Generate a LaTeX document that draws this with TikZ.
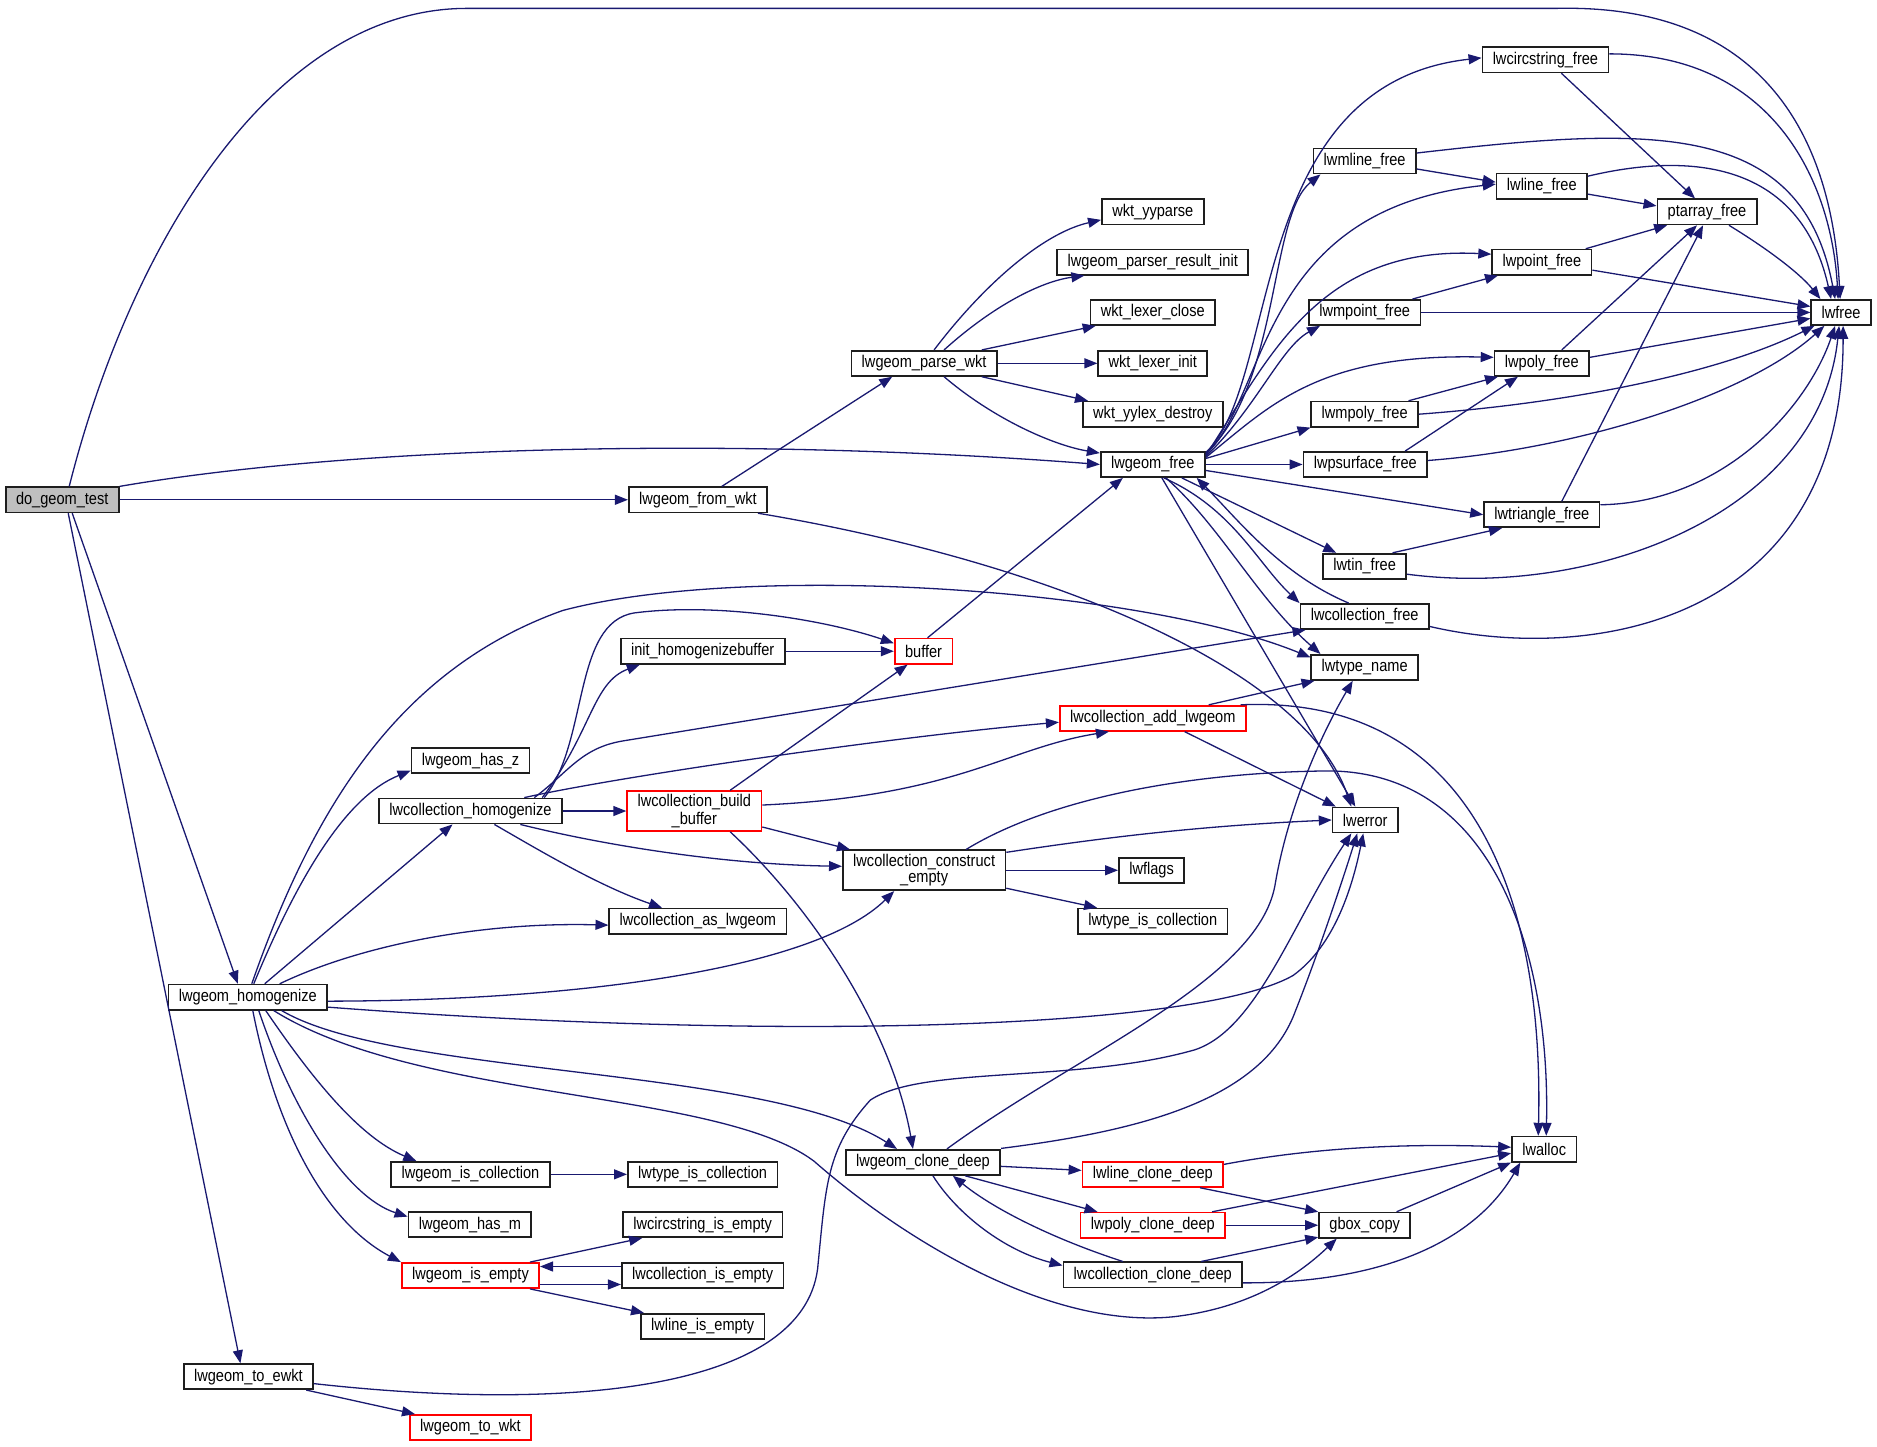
\documentclass[tikz,border=0pt]{standalone}
\usepackage{fontspec}
\newfontfamily\nf{Liberation Sans}[FakeStretch=0.86]
\usetikzlibrary{arrows.meta}
\definecolor{edgec}{RGB}{25,25,112}
\definecolor{nodeb}{RGB}{30,30,30}
\definecolor{grayfill}{RGB}{191,191,191}
\begin{document}
\begin{tikzpicture}[x=0.6pt,y=-0.6pt,
 nd/.style={draw=nodeb, line width=0.85pt, fill=white, inner xsep=5.2pt, inner ysep=0pt, minimum height=12.6pt, font=\nf\fontsize{8.5}{7.7}\selectfont, align=center},
 nr/.style={nd, draw=red},
 tall/.style={minimum height=20pt},
 e/.style={draw=edgec, line width=0.65pt, -{Triangle[length=6.5pt,width=5pt]}}]
\fill[white] (0,0) rectangle (1568,1208);
\useasboundingbox (0,0) rectangle (1568,1208);
% nodes
\node[nd, fill=grayfill] (do) at (52,417.5) {do\_geom\_test};
\node[nd] (lfw) at (583,417.5) {lwgeom\_from\_wkt};
\node[nd] (lpw) at (772,303.5) {lwgeom\_parse\_wkt};
\node[nd] (wyp) at (963,177) {wkt\_yyparse};
\node[nd] (lpri) at (963,219) {lwgeom\_parser\_result\_init};
\node[nd] (wlc) at (963,261) {wkt\_lexer\_close};
\node[nd] (wli) at (963,303.5) {wkt\_lexer\_init};
\node[nd] (wyd) at (963,346) {wkt\_yylex\_destroy};
\node[nd] (lgf) at (963,388) {lwgeom\_free};
\node[nd] (lcf) at (1291,50) {lwcircstring\_free};
\node[nd] (lmlf) at (1140,134.5) {lwmline\_free};
\node[nd] (llf) at (1288,155.5) {lwline\_free};
\node[nd] (ptf) at (1426,177) {ptarray\_free};
\node[nd] (lptf) at (1288,219) {lwpoint\_free};
\node[nd] (lmpf) at (1140,261) {lwmpoint\_free};
\node[nd] (lwf) at (1538,261) {lwfree};
\node[nd] (lpf) at (1288,303.5) {lwpoly\_free};
\node[nd] (lmpyf) at (1140,346) {lwmpoly\_free};
\node[nd] (lpsf) at (1140.5,388) {lwpsurface\_free};
\node[nd] (ltrf) at (1288,430) {lwtriangle\_free};
\node[nd] (ltinf) at (1140,473) {lwtin\_free};
\node[nd] (lcolf) at (1140,515) {lwcollection\_free};
\node[nd] (ltn) at (1140,557.5) {lwtype\_name};
\node[nr] (buf) at (771.5,544) {buffer};
\node[nd] (ihb) at (587,544) {init\_homogenizebuffer};
\node[nr] (lcal) at (963,600) {lwcollection\_add\_lwgeom};
\node[nd] (lhz) at (393,635.5) {lwgeom\_has\_z};
\node[nd] (lch) at (393,677.5) {lwcollection\_homogenize};
\node[nr, tall] (lcbb) at (580,677.5) {lwcollection\_build\\\_buffer};
\node[nd] (lerr) at (1140.5,685) {lwerror};
\node[nd, tall] (lcce) at (772,727) {lwcollection\_construct\\\_empty};
\node[nd] (lfl) at (962,727) {lwflags};
\node[nd] (ltic) at (963,769.5) {lwtype\_is\_collection};
\node[nd] (lcas) at (583,769.5) {lwcollection\_as\_lwgeom};
\node[nd] (lgh) at (207,833) {lwgeom\_homogenize};
\node[nd] (lal) at (1290,960) {lwalloc};
\node[nd] (lgcd) at (771,971) {lwgeom\_clone\_deep};
\node[nr] (llcd) at (963,981) {lwline\_clone\_deep};
\node[nd] (lgic) at (393,981) {lwgeom\_is\_collection};
\node[nd] (ltic2) at (587,981) {lwtype\_is\_collection};
\node[nr] (lpcd) at (963,1023.5) {lwpoly\_clone\_deep};
\node[nd] (gbc) at (1140,1023.5) {gbox\_copy};
\node[nd] (lhm) at (392.5,1023) {lwgeom\_has\_m};
\node[nd] (lcie) at (587,1023) {lwcircstring\_is\_empty};
\node[nr] (lgie) at (393,1065.5) {lwgeom\_is\_empty};
\node[nd] (lcoie) at (587,1065.5) {lwcollection\_is\_empty};
\node[nd] (lccd) at (963,1065) {lwcollection\_clone\_deep};
\node[nd] (llie) at (587,1108) {lwline\_is\_empty};
\node[nd] (ltew) at (207.5,1150) {lwgeom\_to\_ewkt};
\node[nr] (ltw) at (393,1192.5) {lwgeom\_to\_wkt};
% edges from do_geom_test
\draw[e] ([xshift=3.5pt]do.north) .. controls (110,200) and (230,7) .. (390,7) -- (1300,7) .. controls (1470,3) and (1530,110) .. ([xshift=-0.5pt]lwf.north);
\draw[e] (do.north east) .. controls (300,372) and (620,365) .. (lgf.west);
\draw[e] (do.east) -- (lfw.west);
\draw[e] ([xshift=5pt]do.south) -- ([xshift=-5pt]lgh.north);
\draw[e] ([xshift=3pt]do.south) -- ([xshift=-4pt]ltew.north);
% lwgeom_from_wkt
\draw[e] ([xshift=12pt]lfw.north) -- ([xshift=-16pt]lpw.south);
\draw[e] ([xshift=-5pt]lfw.south east) .. controls (880,470) and (1090,560) .. ([xshift=-7pt]lerr.north);
% lwgeom_parse_wkt
\draw[e] ([xshift=5pt]lpw.north) .. controls (820,240) and (870,195) .. ([yshift=-4pt]wyp.west);
\draw[e] ([xshift=10pt]lpw.north) .. controls (830,255) and (870,235) .. ([xshift=14pt]lpri.south west);
\draw[e] ([xshift=-8pt]lpw.north east) -- ([xshift=3pt]wlc.south west);
\draw[e] (lpw.east) -- (wli.west);
\draw[e] ([xshift=-8pt]lpw.south east) -- ([xshift=3pt]wyd.north west);
\draw[e] ([xshift=10pt]lpw.south) .. controls (830,350) and (880,372) .. ([yshift=-1pt]lgf.north west);
% lwgeom_free
\draw[e] ([yshift=6pt]lgf.east) .. controls (1070,320) and (1040,70) .. ([yshift=1pt]lcf.west);
\draw[e] ([yshift=5.5pt]lgf.east) .. controls (1070,320) and (1060,180) .. ([xshift=4pt]lmlf.south west);
\draw[e] ([yshift=5pt]lgf.east) .. controls (1060,330) and (1050,175) .. ([yshift=1pt]llf.west);
\draw[e] ([yshift=4.5pt]lgf.east) .. controls (1060,300) and (1100,205) .. ([yshift=4pt]lptf.west);
\draw[e] ([yshift=4pt]lgf.east) .. controls (1050,340) and (1070,290) .. ([xshift=6pt]lmpf.south west);
\draw[e] ([yshift=3.5pt]lgf.east) .. controls (1060,340) and (1100,295) .. ([yshift=3pt]lpf.west);
\draw[e] ([yshift=3pt]lgf.east) -- (lmpyf.south west);
\draw[e] (lgf.east) -- (lpsf.west);
\draw[e] ([yshift=-3pt]lgf.east) -- (ltrf.west);
\draw[e] ([xshift=-12pt]lgf.south east) -- ([xshift=7pt]ltinf.north west);
\draw[e] ([xshift=-21pt]lgf.south east) .. controls (1030,425) and (1050,470) .. (lcolf.north west);
\draw[e] ([xshift=-8pt]lcolf.north) .. controls (1070,480) and (1035,435) .. ([xshift=22pt]lgf.south);
\draw[e] ([xshift=-20pt]lgf.south east) .. controls (1020,440) and (1050,500) .. ([xshift=5pt]ltn.north west);
\draw[e] ([xshift=-22pt]lgf.south east) -- ([xshift=-5pt]lerr.north);
% free functions to lwfree / ptarray_free
\draw[e] ([yshift=3pt]lcf.east) .. controls (1480,45) and (1530,150) .. ([xshift=-1.5pt]lwf.north);
\draw[e] ([xshift=8pt]lcf.south) -- ([xshift=-6pt]ptf.north);
\draw[e] ([yshift=4pt]lmlf.east) .. controls (1380,105) and (1505,100) .. ([xshift=-3pt]lwf.north);
\draw[e] ([yshift=-4pt]lmlf.east) -- ([yshift=2pt]llf.west);
\draw[e] ([yshift=5pt]llf.east) .. controls (1420,125) and (1505,140) .. ([xshift=-5pt]lwf.north);
\draw[e] ([yshift=-4pt]llf.east) -- ([yshift=3pt]ptf.west);
\draw[e] ([xshift=11pt]ptf.south) .. controls (1480,210) and (1505,230) .. ([xshift=5pt]lwf.north west);
\draw[e] ([xshift=22pt]lptf.north) -- ([xshift=-20pt]ptf.south);
\draw[e] ([yshift=-4pt]lptf.east) -- ([yshift=3pt]lwf.west);
\draw[e] ([xshift=24pt]lmpf.north) -- ([xshift=-22pt]lptf.south);
\draw[e] (lmpf.east) -- (lwf.west);
\draw[e] ([xshift=10pt]lpf.north) -- ([xshift=-5pt]ptf.south);
\draw[e] ([yshift=3pt]lpf.east) -- ([yshift=-3pt]lwf.west);
\draw[e] ([xshift=22pt]lmpyf.north) -- ([xshift=-22pt]lpf.south);
\draw[e] (lmpyf.east) .. controls (1320,336) and (1440,310) .. ([xshift=2pt]lwf.south west);
\draw[e] ([xshift=20pt]lpsf.north) -- ([xshift=-12pt]lpf.south);
\draw[e] ([yshift=2pt]lpsf.east) .. controls (1320,375) and (1460,330) .. ([xshift=7pt]lwf.south west);
\draw[e] ([xshift=10pt]ltrf.north) -- ([xshift=-2pt]ptf.south);
\draw[e] ([yshift=5pt]ltrf.east) .. controls (1440,420) and (1510,340) .. ([xshift=-3pt]lwf.south);
\draw[e] ([xshift=14pt]ltinf.north) -- ([xshift=-20pt]ltrf.south);
\draw[e] ([yshift=-4pt]ltinf.east) .. controls (1330,500) and (1520,430) .. ([xshift=-1pt]lwf.south);
\draw[e] ([yshift=-5pt]lcolf.east) .. controls (1330,555) and (1540,520) .. ([xshift=1pt]lwf.south);
% buffer etc.
\draw[e] ([xshift=2pt]buf.north) -- ([xshift=-15pt]lgf.south);
\draw[e] (ihb.east) -- (buf.west);
\draw[e] ([xshift=28pt]lcal.north) -- ([xshift=2pt]ltn.south west);
\draw[e] ([xshift=16pt]lcal.south) -- ([xshift=2pt]lerr.north west);
\draw[e] ([xshift=44pt]lcal.north) .. controls (1230,580) and (1290,750) .. ([xshift=-3pt]lal.north);
% lwcollection_homogenize
\draw[e] ([xshift=37pt]lch.north) .. controls (492,620) and (478,520) .. (530,512) .. controls (600,503) and (690,518) .. ([yshift=4pt]buf.west);
\draw[e] ([xshift=36pt]lch.north) .. controls (495,610) and (495,570) .. ([xshift=10pt]ihb.south west);
\draw[e] ([xshift=32pt]lch.north) .. controls (475,645) and (485,625) .. (520,619) -- ([xshift=3pt]lcolf.south west);
\draw[e] ([xshift=27pt]lch.north) .. controls (520,648) and (750,615) .. ([yshift=-2pt]lcal.west);
\draw[e] (lch.east) -- (lcbb.west);
\draw[e] ([xshift=25pt]lch.south) .. controls (500,705) and (600,722) .. ([yshift=2pt]lcce.west);
\draw[e] ([xshift=12pt]lch.south) .. controls (450,710) and (500,740) .. ([xshift=-18pt]lcas.north);
% lwcollection_build_buffer
\draw[e] ([xshift=18pt]lcbb.north) -- ([xshift=-8pt]buf.south);
\draw[e] ([yshift=3pt]lcbb.east) .. controls (800,665) and (840,625) .. ([xshift=-22pt]lcal.south);
\draw[e] ([yshift=-8pt]lcbb.east) -- ([xshift=4pt]lcce.north west);
\draw[e] ([xshift=18pt]lcbb.south) .. controls (680,760) and (745,860) .. ([xshift=-5pt]lgcd.north);
% lwcollection_construct_empty
\draw[e] ([yshift=9pt]lcce.east) .. controls (920,700) and (1000,690) .. (lerr.west);
\draw[e] (lcce.east) -- (lfl.west);
\draw[e] ([yshift=-9pt]lcce.east) -- ([xshift=10pt]ltic.north west);
\draw[e] ([xshift=21pt]lcce.north) .. controls (880,665) and (1000,645) .. (1110,644) .. controls (1250,645) and (1295,800) .. ([xshift=1pt]lal.north);
% lwgeom_homogenize
\draw[e] ([xshift=2pt]lgh.north) .. controls (260,680) and (330,560) .. (470,510) .. controls (620,470) and (950,490) .. ([yshift=5pt]ltn.west);
\draw[e] ([xshift=3pt]lgh.north) .. controls (250,730) and (290,665) .. ([yshift=-5pt]lhz.west);
\draw[e] ([xshift=8.5pt]lgh.north) -- ([xshift=-9pt]lch.south);
\draw[e] ([xshift=16pt]lgh.north) .. controls (300,790) and (400,770) .. ([yshift=-2pt]lcas.west);
\draw[e] ([yshift=-2pt]lgh.east) .. controls (480,836) and (680,810) .. ([xshift=-15pt]lcce.south);
\draw[e] ([yshift=-5pt]lgh.east) .. controls (650,870) and (1000,860) .. (1080,815) .. controls (1115,790) and (1130,740) .. ([xshift=-1pt]lerr.south);
\draw[e] ([xshift=17pt]lgh.south) .. controls (330,900) and (640,890) .. ([xshift=-13pt]lgcd.north);
\draw[e] ([xshift=13pt]lgh.south) .. controls (350,920) and (600,910) .. (680,970) .. controls (760,1040) and (880,1110) .. (980,1100) .. controls (1050,1092) and (1090,1060) .. ([xshift=-14pt]gbc.south);
\draw[e] ([xshift=9pt]lgh.south) .. controls (260,900) and (300,950) .. ([xshift=13pt]lgic.north west);
\draw[e] ([xshift=5.5pt]lgh.south) .. controls (245,930) and (290,1000) .. ([yshift=4pt]lhm.west);
\draw[e] ([xshift=2.5pt]lgh.south) .. controls (230,940) and (270,1020) .. (lgie.north west);
% small lower-left
\draw[e] (lgic.east) -- (ltic2.west);
\draw[e] ([xshift=-5pt]lgie.north east) -- ([xshift=10pt]lcie.south west);
\draw[e] ([yshift=4.5pt]lcoie.west) -- ([yshift=4.5pt]lgie.east);
\draw[e] ([yshift=-4.5pt]lgie.east) -- ([yshift=-4.5pt]lcoie.west);
\draw[e] ([xshift=-5pt]lgie.south east) -- ([xshift=2pt]llie.north west);
\draw[e] ([xshift=29pt]ltew.south) -- ([xshift=3pt]ltw.north west);
\draw[e] ([yshift=-3.5pt]ltew.east) .. controls (480,1180) and (670,1160) .. (683,1060) .. controls (690,990) and (690,960) .. (727,919) .. controls (770,890) and (900,905) .. (998,877) .. controls (1050,860) and (1080,770) .. ([xshift=-7pt]lerr.south);
% lwgeom_clone_deep
\draw[e] ([xshift=12pt]lgcd.north) .. controls (900,880) and (1050,820) .. (1065,740) .. controls (1075,680) and (1100,620) .. ([xshift=-6pt]ltn.south);
\draw[e] ([yshift=7pt]lgcd.east) .. controls (950,945) and (1050,920) .. (1080,850) .. controls (1100,800) and (1120,740) .. ([xshift=-4pt]lerr.south);
\draw[e] ([yshift=-2pt]lgcd.east) -- ([yshift=2pt]llcd.west);
\draw[e] ([xshift=-18pt]lgcd.south east) -- ([xshift=9pt]lpcd.north west);
\draw[e] ([xshift=5pt]lgcd.south) .. controls (800,1015) and (840,1045) .. ([yshift=-2pt]lccd.north west);
\draw[e] ([xshift=-15pt]lccd.north) .. controls (880,1035) and (830,1010) .. ([xshift=15pt]lgcd.south);
% clone functions
\draw[e] ([yshift=5pt]llcd.east) .. controls (1100,958) and (1180,955) .. ([yshift=1pt]lal.west);
\draw[e] ([xshift=-12pt]llcd.south east) -- (gbc.north west);
\draw[e] ([xshift=-7pt]lpcd.north east) -- ([yshift=-2pt]lal.west);
\draw[e] (lpcd.east) -- (gbc.west);
\draw[e] ([xshift=-21pt]lccd.north east) -- ([yshift=-6pt]gbc.west);
\draw[e] ([yshift=-4pt]lccd.east) .. controls (1150,1072) and (1230,1040) .. ([xshift=-12pt]lal.south);
\draw[e] ([xshift=16pt]gbc.north) -- (lal.south west);
\end{tikzpicture}
\end{document}
